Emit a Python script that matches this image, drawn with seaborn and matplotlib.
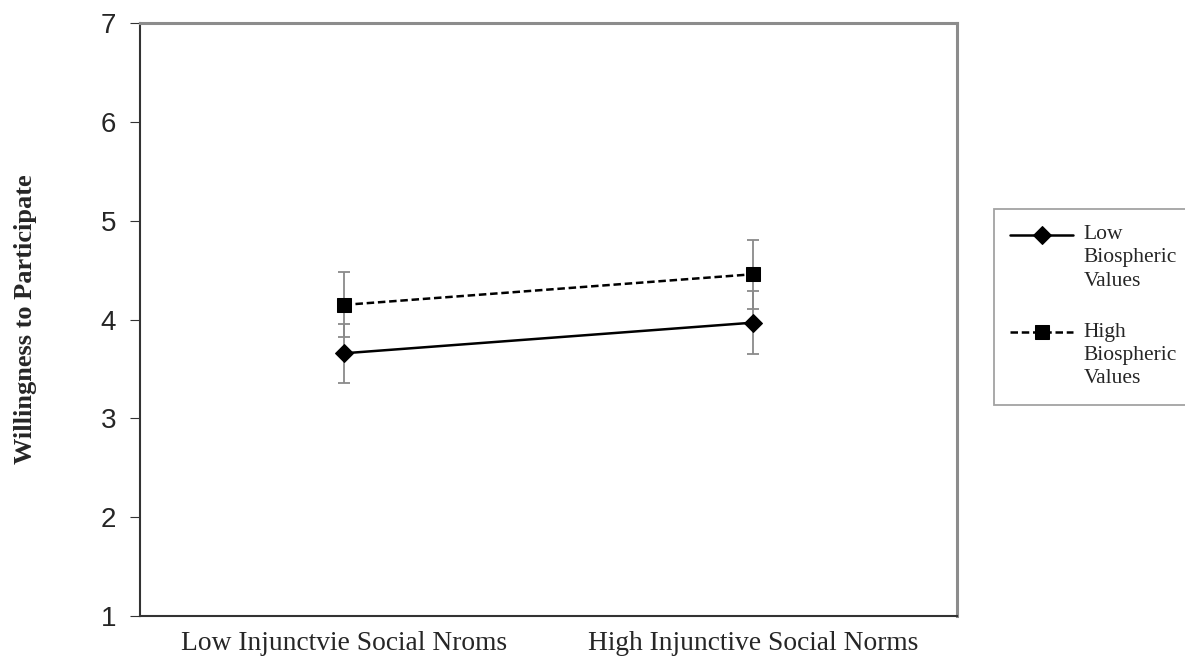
import numpy as np
import pandas as pd
import matplotlib
matplotlib.use("Agg")
import matplotlib.pyplot as plt
from matplotlib.lines import Line2D
from matplotlib.legend_handler import HandlerLine2D
import seaborn as sns

# data
conditions = ["Low Injunctvie Social Nroms", "High Injunctive Social Norms"]
groups = ["Low\nBiospheric\nValues", "High\nBiospheric\nValues"]
low_bio_means = [3.66, 3.97]
low_bio_err = [0.30, 0.32]
high_bio_means = [4.15, 4.46]
high_bio_err = [0.33, 0.35]

df = pd.DataFrame({
    "condition": conditions * 2,
    "x": [0, 1] * 2,
    "group": [groups[0]] * 2 + [groups[1]] * 2,
    "mean": low_bio_means + high_bio_means,
    "err": low_bio_err + high_bio_err,
})


class FirstLineHandler(HandlerLine2D):
    """Put the legend line next to the first text line instead of the middle."""
    def __init__(self, shift, **kw):
        super().__init__(**kw)
        self.shift = shift

    def create_artists(self, legend, orig_handle, xdescent, ydescent,
                       width, height, fontsize, trans):
        arts = super().create_artists(legend, orig_handle, xdescent, ydescent,
                                      width, height, fontsize, trans)
        for a in arts:
            a.set_ydata(np.asarray(a.get_ydata()) + self.shift)
        return arts


sns.set_style("white")
plt.rcParams["font.family"] = ["Liberation Serif", "DejaVu Serif"]

fig = plt.figure(figsize=(11.85, 6.66), dpi=100)
ax = fig.add_axes([0.118, 0.075, 0.690, 0.890])

# error bars first so lines sit on top
for g in groups:
    sub = df[df["group"] == g]
    ax.errorbar(sub["x"], sub["mean"], yerr=sub["err"], fmt="none",
                ecolor="#8a8a8a", elinewidth=1.3, capsize=4.5, capthick=1.3, zorder=2)

sns.lineplot(data=df, x="x", y="mean", hue="group", style="group",
             hue_order=groups, style_order=groups,
             palette=["black", "black"],
             dashes=[(None, None), (3, 1.5)], markers=["D", "s"],
             markersize=9.5, markeredgecolor="black", linewidth=1.8,
             ax=ax, zorder=3)

ax.set_xlim(-0.5, 1.5)
ax.set_ylim(1, 7)
ax.set_yticks(range(1, 8))
ax.set_yticklabels([str(v) for v in range(1, 8)], family="Liberation Sans", fontsize=20)
ax.set_xticks([-0.5, 0.5, 1.5])
ax.set_xticklabels([])
ax.set_xticks([0, 1], minor=True)
ax.set_xticklabels(conditions, minor=True, fontsize=19.8)
ax.tick_params(axis="x", which="minor", length=0, pad=11)
ax.tick_params(axis="x", which="major", length=5, direction="in", color="#555555")
ax.tick_params(axis="y", length=7, direction="out", color="#333333", left=True, pad=10)

ax.set_xlabel("")
ax.set_ylabel("Willingness to Participate", fontsize=19, fontweight="bold", labelpad=46)

for side in ["left", "bottom"]:
    ax.spines[side].set_color("#333333")
    ax.spines[side].set_linewidth(1.5)
for side in ["top", "right"]:
    ax.spines[side].set_color("#8c8c8c")
    ax.spines[side].set_linewidth(2.2)

handles, labels = ax.get_legend_handles_labels()
leg = ax.legend(handles, labels, loc="upper left", bbox_to_anchor=(0.839, 0.686),
                bbox_transform=fig.transFigure, fontsize=15.5, frameon=True,
                fancybox=False, edgecolor="#8c8c8c", handlelength=2.9,
                labelspacing=1.5, borderpad=0.75, handletextpad=0.5,
                borderaxespad=0, handler_map={Line2D: FirstLineHandler(16.5)})
leg.get_frame().set_linewidth(1.3)
for t in leg.get_texts():
    t.set_linespacing(1.3)

fig.savefig("out.png", dpi=100)
